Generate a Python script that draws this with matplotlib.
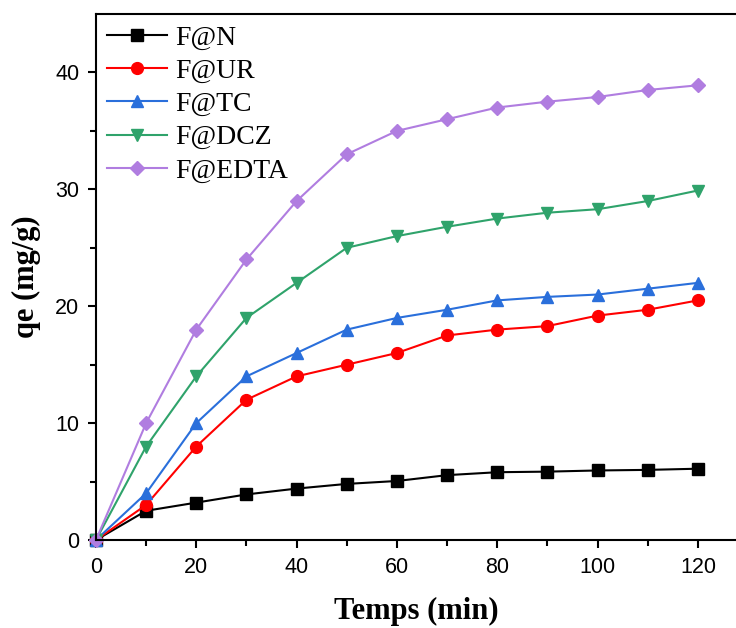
import numpy as np
import matplotlib.pyplot as plt

time = [0, 10, 20, 30, 40, 50, 60, 70, 80, 90, 100, 110, 120]
q_n = [0, 2.5, 3.2, 3.9, 4.4, 4.8, 5.05, 5.55, 5.8, 5.85, 5.95, 6.0, 6.1]
q_ur = [0, 3.0, 8.0, 12.0, 14.0, 15.0, 16.0, 17.5, 18.0, 18.3, 19.2, 19.7, 20.5]
q_tc = [0, 4.0, 10.0, 14.0, 16.0, 18.0, 19.0, 19.7, 20.5, 20.8, 21.0, 21.5, 22.0]
q_dcz = [0, 8.0, 14.0, 19.0, 22.0, 25.0, 26.0, 26.8, 27.5, 28.0, 28.3, 29.0, 29.9]
q_edta = [0, 10.0, 18.0, 24.0, 29.0, 33.0, 35.0, 36.0, 37.0, 37.5, 37.9, 38.5, 38.9]

labels = ["F@N", "F@UR", "F@TC", "F@DCZ", "F@EDTA"]
series = [q_n, q_ur, q_tc, q_dcz, q_edta]
colors = ["#000000", "#ff0000", "#2a6fdb", "#2fa36b", "#b07de0"]
markers = ["s", "o", "^", "v", "D"]
msizes = [8, 8.5, 8.5, 8.5, 7]

fig = plt.figure(figsize=(7.36, 6.28), dpi=100)
ax = fig.add_axes([0.1304, 0.1401, 0.8696, 0.8376])

for y, lab, c, m, ms in zip(series, labels, colors, markers, msizes):
    ax.plot(time, y, color=c, marker=m, markersize=ms, linewidth=1.5,
            label=lab, clip_on=False)

ax.set_xlim(0, 127.6)
ax.set_ylim(0, 45)
ax.set_xticks(np.arange(0, 121, 20))
ax.set_xticks(np.arange(10, 121, 20), minor=True)
ax.set_yticks(np.arange(0, 41, 10))
ax.set_yticks(np.arange(5, 41, 10), minor=True)

ax.spines["right"].set_visible(False)
for s in ["left", "bottom", "top"]:
    ax.spines[s].set_linewidth(1.5)

ax.tick_params(axis="both", which="major", direction="out", length=6, width=1.5,
               labelsize=15.5, pad=6)
ax.tick_params(axis="both", which="minor", direction="out", length=4, width=1.5)
for t in ax.get_xticklabels() + ax.get_yticklabels():
    t.set_fontfamily("Liberation Sans")

ax.set_xlabel("Temps (min)", fontfamily="Liberation Serif", fontweight="bold",
              fontsize=22, labelpad=14)
ax.set_ylabel("qe (mg/g)", fontfamily="Liberation Serif", fontweight="bold",
              fontsize=22, labelpad=10)

ax.legend(loc="upper left", frameon=False, prop={"family": "Liberation Serif", "size": 20},
          handlelength=2.15, labelspacing=0.28, borderaxespad=0.15, handletextpad=0.3,
          borderpad=0.25)

fig.savefig("out.png", dpi=100)
